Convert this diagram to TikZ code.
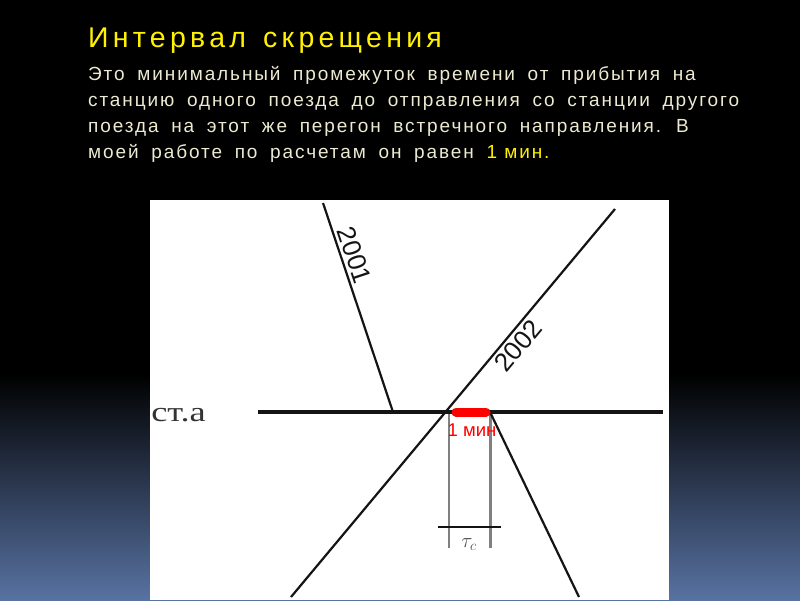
\documentclass[tikz,border=0pt]{standalone}
\usepackage{fontspec}
\setmainfont{Liberation Sans}
\newfontfamily\titlefont[LetterSpace=15]{Liberation Sans}
\newfontfamily\bodyfont[LetterSpace=10]{Liberation Sans}
\newfontfamily\stfont{Liberation Serif}
\definecolor{bgblue}{RGB}{88,114,162}
\definecolor{cream}{RGB}{236,234,208}
\definecolor{ink}{RGB}{20,20,20}
\tikzset{
  ttl/.style={anchor=base west,inner sep=0pt,text=yellow,
    font=\titlefont\fontsize{28.5}{34}\selectfont},
  txt/.style={anchor=base west,inner sep=0pt,text=cream,
    font=\bodyfont\fontsize{19}{22}\selectfont},
  train/.style={line width=2.2pt,draw=ink},
  trainlbl/.style={sloped,inner sep=3pt,text=ink,font=\fontsize{26}{30}\selectfont},
  guide/.style={line width=2.4pt,draw=black!50}
}
\newcommand{\gap}{\hspace{5.5pt} }
\begin{document}
\begin{tikzpicture}[x=1pt,y=-1pt]
  \useasboundingbox (0,0) rectangle (800,600);
  \fill[black] (0,0) rectangle (800,600);
  \shade[top color=black,bottom color=bgblue] (0,375) rectangle (800,600);
  \fill[white] (150,200) rectangle (669,600);

  % heading and text
  \path
    (88,47) node[ttl] (title){Интервал\hspace{5pt} скрещения}
    (88,80) node[txt] (row1){Это\gap минимальный\gap промежуток\gap времени\gap от\gap прибытия\gap на}
    (88,106) node[txt] (row2){станцию\gap одного\gap поезда\gap до\gap отправления\gap со\gap станции\gap другого}
    (88,132) node[txt] (row3){поезда\gap на\gap этот\gap же\gap перегон\gap встречного\gap направления.\gap В}
    (88,158) node[txt] (row4){моей\gap работе\gap по\gap расчетам\gap он\gap равен\gap \textcolor{yellow}{1 мин.}};

  % points of the graph
  \coordinate (st0) at (258,412);
  \coordinate (st1) at (663,412);
  \coordinate (a0) at (323,203);
  \coordinate (a1) at (393,412);
  \coordinate (b0) at (291,597);
  \coordinate (b1) at (615,209);
  \coordinate (c0) at (490,412);
  \coordinate (c1) at (579,597);
  \coordinate (v0) at (449,412);
  \coordinate (v0e) at (449,548);
  \coordinate (v1) at (490.5,412);
  \coordinate (v1e) at (490.5,548);
  \coordinate (k0) at (438,527);
  \coordinate (k1) at (501,527);
  \coordinate (r0) at (456,412);
  \coordinate (r1) at (486,412);

  \begin{scope}[-]
    \draw[guide] (v0) to (v0e);
    \draw[guide] (v1) to (v1e);
    \draw[line width=1.4pt,ink] (k0) to (k1);
    \draw[train] (a0) to node[trainlbl,pos=0.27,above]{2001} (a1);
    \draw[train] (b0) to node[trainlbl,pos=0.67,below]{2002} (b1);
    \draw[train] (c0) to (c1);
    \draw[line width=4.5pt,ink] (st0) to (st1);
    \draw[line width=9pt,red,line cap=round] (r0) to (r1);
  \end{scope}

  \path
    (151,421) node[anchor=base west,inner sep=0pt,xscale=1.3,text=black!80,
      font=\stfont\fontsize{28}{34}\selectfont] (sta){ст.а}
    (472,436) node[anchor=base,inner sep=0pt,text=red,
      font=\fontsize{18.5}{20}\selectfont] (min){1 мин}
    (469,547) node[anchor=base,inner sep=0pt,text=black!70,
      font=\fontsize{22}{24}\selectfont] (tau){$\tau_c$};
\end{tikzpicture}
\end{document}
